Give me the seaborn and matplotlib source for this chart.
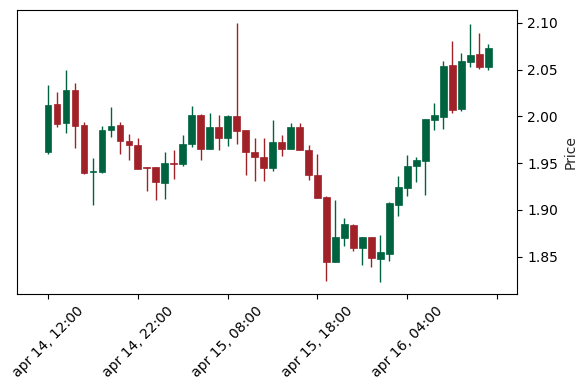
import numpy as np
import pandas as pd
import seaborn as sns
import matplotlib
matplotlib.use("Agg")
import matplotlib.pyplot as plt

# hourly OHLC, apr 14 12:00 -> apr 16 13:00
opens = [1.9616, 2.0132, 1.9928, 2.0280, 1.9903, 1.9409, 1.9409, 1.9850, 1.9903, 1.9742,
         1.9699, 1.9455, 1.9455, 1.9283, 1.9505, 1.9487, 1.9706, 2.0010, 1.9649, 1.9892,
         1.9767, 2.0000, 1.9850, 1.9624, 1.9570, 1.9444, 1.9731, 1.9653, 1.9882, 1.9645,
         1.9373, 1.9140, 1.8444, 1.8702, 1.8839, 1.8595, 1.8710, 1.8477, 1.8530, 1.9054,
         1.9240, 1.9466, 1.9527, 1.9957, 1.9993, 2.0548, 2.0075, 2.0584, 2.0667, 2.0530]
highs = [2.0333, 2.0261, 2.0500, 2.0358, 1.9939, 1.9552, 1.9896, 2.0100, 1.9939, 1.9814,
         1.9771, 1.9455, 1.9462, 1.9624, 1.9642, 1.9803, 2.0110, 2.0029, 2.0040, 2.0018,
         2.0018, 2.0997, 1.9860, 1.9767, 1.9767, 1.9964, 1.9803, 1.9932, 1.9932, 1.9696,
         1.9599, 1.9150, 1.9104, 1.8917, 1.8846, 1.8710, 1.8710, 1.8728, 1.9090, 1.9362,
         1.9588, 1.9570, 1.9975, 2.0147, 2.0595, 2.0806, 2.0680, 2.0986, 2.0889, 2.0771]
lows = [1.9600, 1.9892, 1.9825, 1.9663, 1.9384, 1.9054, 1.9395, 1.9785, 1.9600, 1.9534,
        1.9437, 1.9200, 1.9104, 1.9115, 1.9330, 1.9470, 1.9677, 1.9538, 1.9649, 1.9642,
        1.9688, 1.9706, 1.9376, 1.9312, 1.9312, 1.9419, 1.9580, 1.9653, 1.9642, 1.9323,
        1.9129, 1.8237, 1.8444, 1.8613, 1.8559, 1.8416, 1.8387, 1.8229, 1.8452, 1.8932,
        1.9150, 1.9294, 1.9158, 1.9850, 1.9868, 2.0040, 2.0057, 2.0530, 2.0505, 2.0495]
closes = [2.0118, 1.9921, 2.0280, 1.9896, 1.9400, 1.9420, 1.9860, 1.9900, 1.9735, 1.9691,
          1.9437, 1.9444, 1.9294, 1.9502, 1.9487, 1.9706, 2.0010, 1.9649, 1.9892, 1.9767,
          2.0000, 1.9842, 1.9616, 1.9563, 1.9444, 1.9731, 1.9653, 1.9892, 1.9642, 1.9373,
          1.9129, 1.8444, 1.8710, 1.8846, 1.8595, 1.8710, 1.8487, 1.8548, 1.9079, 1.9247,
          1.9473, 1.9538, 1.9968, 2.0011, 2.0538, 2.0065, 2.0591, 2.0656, 2.0530, 2.0734]
tick_labels = ["apr 14, 12:00", "apr 14, 22:00", "apr 15, 08:00",
               "apr 15, 18:00", "apr 16, 04:00", ""]

up_color = "#006340"
down_color = "#A02128"

df = pd.DataFrame({"Open": opens, "High": highs, "Low": lows, "Close": closes})
df["idx"] = np.arange(len(df))
df["up"] = df["Close"] >= df["Open"]
df["color"] = np.where(df["up"], up_color, down_color)
df["bottom"] = df[["Open", "Close"]].min(axis=1)
df["height"] = (df["Close"] - df["Open"]).abs().clip(lower=0.0008)

sns.set_style("ticks")
plt.rcParams["font.family"] = ["DejaVu Sans"]

fig = plt.figure(figsize=(5.87, 3.90), dpi=100)
ax = fig.add_axes([0.0295, 0.246, 0.852, 0.728])

#wicks then bodies
ax.vlines(df["idx"], df["Low"], df["High"], colors=df["color"], linewidth=1.0, zorder=2)
ax.bar(df["idx"], df["height"], bottom=df["bottom"], width=0.75,
       color=df["color"], edgecolor=df["color"], linewidth=0.5, zorder=3)

ax.set_xlim(-3.42, 52.26)
ax.set_ylim(1.8101, 2.1136)
ax.set_xticks(np.arange(0, 51, 10))
ax.set_xticklabels(tick_labels, rotation=45)
ax.set_yticks([1.85, 1.90, 1.95, 2.00, 2.05, 2.10])
ax.yaxis.tick_right()
ax.yaxis.set_label_position("right")
ax.set_ylabel("Price")
for s in ax.spines.values():
    s.set_visible(True)
    s.set_color("black")
ax.tick_params(colors="black", labelsize=10)

fig.savefig("out.png", dpi=100)
